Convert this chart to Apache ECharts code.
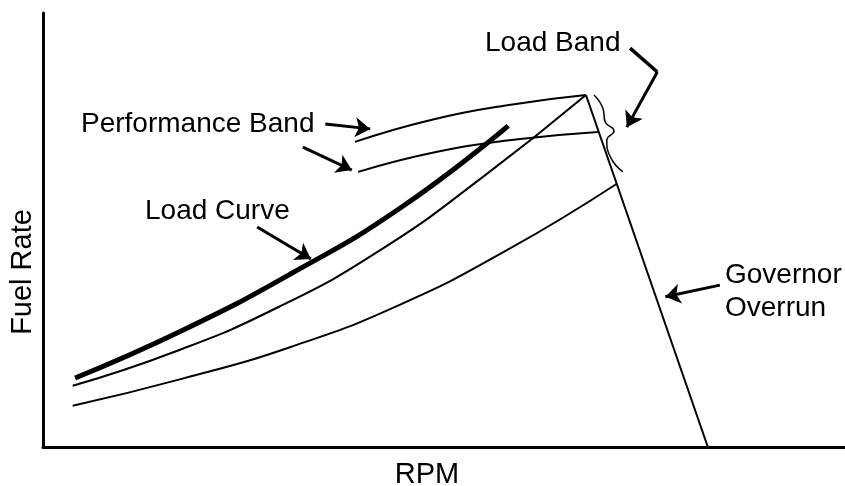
<!DOCTYPE html>
<html>
<head>
<meta charset="utf-8">
<script src="https://cdn.jsdelivr.net/npm/echarts@6/dist/echarts.min.js"></script>
<style>
  html, body { margin: 0; padding: 0; background: #fff; }
  #chart { width: 845px; height: 486px; }
</style>
</head>
<body>
<div id="chart"></div>
<script>
// values, [rpm, fuel rate] on an arbitrary 0-100 scale
const loadCurve = [[4.0, 15.9], [17.1, 26.6], [30.8, 39.8], [44.5, 55.0], [58.0, 74.0]];
const upperThinCurve = [[3.7, 14.1], [16.5, 22.0], [29.3, 32.2], [42.0, 45.3], [54.9, 62.3], [67.7, 81.1]];
const lowerThinCurve = [[3.7, 9.5], [17.3, 15.7], [30.8, 23.0], [44.4, 32.7], [57.9, 45.4], [71.5, 60.6]];
const perfBandUpper = [[38.9, 70.3], [48.5, 75.4], [58.1, 78.8], [67.7, 81.1]];
const perfBandLower = [[39.3, 63.4], [49.3, 68.1], [59.2, 70.9], [69.2, 72.6]];
const governorOverrun = [[67.7, 81.1], [82.9, 0]];
const loadBandBrace = [[68.7, 81.1], [69.8, 78.1], [70.1, 74.9], [71.2, 72.8], [70.3, 70.7], [70.8, 66.6], [72.3, 63.4]];

// annotation arrows, [from, to]
const loadBandPointer = [[73.2, 91.9], [76.6, 86.4]];
const arrows = [
  [[35.2, 74.4], [40.8, 73.3]],
  [[32.4, 69.1], [38.5, 63.8]],
  [[26.7, 50.7], [33.4, 43.3]],
  [[84.4, 37.3], [77.6, 34.6]],
  [[76.6, 86.4], [72.8, 73.7]]
];

const font = 'Liberation Sans, Arial, sans-serif';

function curve(data, width, smooth) {
  return {
    type: 'line',
    data: data,
    smooth: smooth,
    showSymbol: false,
    silent: true,
    lineStyle: { color: '#000', width: width },
    itemStyle: { color: '#000' }
  };
}

function label(text, x, y, size, extra) {
  return Object.assign({
    type: 'text',
    x: x,
    y: y,
    style: {
      text: text,
      font: size + 'px ' + font,
      fill: '#000',
      textAlign: (extra && extra.center) ? 'center' : 'left',
      textVerticalAlign: 'middle'
    }
  }, extra ? { rotation: extra.rotation || 0 } : {});
}

const myChart = echarts.init(document.getElementById('chart'));

myChart.setOption({
  animation: false,
  grid: { left: 43, right: 0, top: 13, bottom: 39 },
  xAxis: {
    type: 'value',
    min: 0,
    max: 100,
    axisLine: { lineStyle: { color: '#000', width: 3 } },
    axisTick: { show: false },
    axisLabel: { show: false },
    splitLine: { show: false }
  },
  yAxis: {
    type: 'value',
    min: 0,
    max: 100,
    axisLine: { show: true, lineStyle: { color: '#000', width: 3 } },
    axisTick: { show: false },
    axisLabel: { show: false },
    splitLine: { show: false }
  },
  graphic: [
    label('Load Band', 485, 43, 28),
    label('Performance Band', 81, 124, 28),
    label('Load Curve', 145, 211, 28),
    label('Governor', 725, 275, 28),
    label('Overrun', 725, 308, 28),
    label('RPM', 427, 475, 29, { center: true }),
    label('Fuel Rate', 23, 272, 29, { center: true, rotation: Math.PI / 2 })
  ],
  series: [
    curve(loadCurve, 5, 0.5),
    curve(upperThinCurve, 2, 0.5),
    curve(lowerThinCurve, 2, 0.5),
    curve(perfBandUpper, 2, 0.5),
    curve(perfBandLower, 2, 0.5),
    curve(governorOverrun, 2, false),
    curve(loadBandBrace, 1.5, 0.5),
    curve(loadBandPointer, 3.5, false),
    {
      type: 'line',
      data: [],
      markLine: {
        silent: true,
        animation: false,
        symbol: ['none', 'arrow'],
        symbolSize: 15,
        label: { show: false },
        lineStyle: { color: '#000', width: 3, type: 'solid' },
        data: arrows.map(a => [{ coord: a[0] }, { coord: a[1] }])
      }
    }
  ]
});
</script>
</body>
</html>
